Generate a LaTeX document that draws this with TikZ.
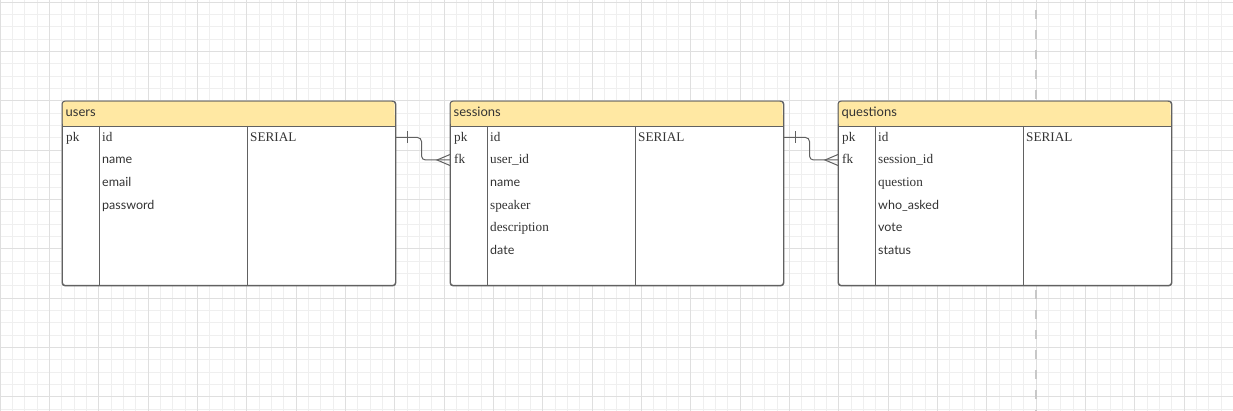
\documentclass[tikz,border=0pt]{standalone}
\usepackage{fontspec}
\setmainfont{Liberation Serif}
\newfontfamily\latofont{Lato}
\definecolor{gridminor}{HTML}{EFEFEF}
\definecolor{gridmajor}{HTML}{DFDFDF}
\definecolor{headfill}{HTML}{FFE8A3}
\definecolor{bordercol}{HTML}{616161}
\definecolor{textcol}{HTML}{333333}
\definecolor{dashcol}{HTML}{C8C8C8}
\tikzset{
  tablebox/.style={draw=bordercol, line width=0.9pt, rounded corners=3pt, fill=white,
    minimum width=333pt, minimum height=184pt, anchor=north west, inner sep=0pt},
  colline/.style={draw=bordercol, line width=0.8pt},
  cellfr/.style={anchor=base west, inner sep=0pt, text=textcol, font=\fontsize{13.2}{13}\selectfont},
  cellfs/.style={anchor=base west, inner sep=0pt, text=textcol, font=\latofont\fontsize{12.5}{13}\selectfont},
  headtext/.style={anchor=base west, inner sep=0pt, text=textcol, font=\latofont\fontsize{13}{13}\selectfont},
  conn/.style={draw=bordercol, line width=1pt},
}
\newcommand\ertable[3]{% name, left x, title
  \node[tablebox] (#1) at (#2,101) {};
  \fill[headfill, rounded corners=3pt] (#2+0.5,101.5) rectangle (#2+332.5,126);
  \fill[headfill] (#2+0.5,115) rectangle (#2+332.5,126);
  \draw[colline] (#2,126) -- (#2+333,126);
  \draw[colline] (#2+37,126) -- (#2+37,285);
  \draw[colline] (#2+185,126) -- (#2+185,285);
  \draw[draw=bordercol, line width=0.9pt, rounded corners=3pt] (#1.north west) rectangle (#1.south east);
  \node[headtext] (#1-title) at (#2+3.5,116.7) {#3};
}
\begin{document}
\begin{tikzpicture}[x=1pt,y=-1pt]
\useasboundingbox (0,0) rectangle (1233,411);
\fill[white] (0,0) rectangle (1233,411);
% grid
\foreach \i in {0,...,100} {
  \draw[gridminor, line width=0.8pt] (\i*12.333,0) -- (\i*12.333,411);
}
\foreach \i in {0,...,33} {
  \draw[gridminor, line width=0.8pt] (0,2+\i*12.333) -- (1233,2+\i*12.333);
}
\foreach \i in {0,...,25} {
  \draw[gridmajor, line width=0.8pt] (\i*49.333,0) -- (\i*49.333,411);
}
\foreach \i in {0,...,8} {
  \draw[gridmajor, line width=0.8pt] (0,2+\i*49.333) -- (1233,2+\i*49.333);
}
% dashed page break
\draw[dashcol, line width=2pt, dash pattern=on 9pt off 11pt, dash phase=10pt] (1036,0) -- (1036,411);

% users
\ertable{users}{62}{users}
\node[cellfr] (users-k1) at (66,141.3) {pk};
\foreach \f/\t [count=\i from 0] in {fr/id, fs/name, fs/email, fs/password} {
  \node[cell\f] (users-f\i) at (102,141.3+\i*22.6) {\t};
}
\node[cellfr] (users-t1) at (250,141.3) {SERIAL};

% sessions
\ertable{sessions}{450}{sessions}
\node[cellfr] (sessions-k1) at (454,141.3) {pk};
\node[cellfr] (sessions-k2) at (454,163.9) {fk};
\foreach \f/\t [count=\i from 0] in {fr/id, fr/user\_id, fs/name, fr/speaker, fr/description, fs/date} {
  \node[cell\f] (sessions-f\i) at (490,141.3+\i*22.6) {\t};
}
\node[cellfr] (sessions-t1) at (638,141.3) {SERIAL};

% questions
\ertable{questions}{838}{questions}
\node[cellfr] (questions-k1) at (842,141.3) {pk};
\node[cellfr] (questions-k2) at (842,163.9) {fk};
\foreach \f/\t [count=\i from 0] in {fr/id, fr/session\_id, fr/question, fs/who\_asked, fs/vote, fs/status} {
  \node[cell\f] (questions-f\i) at (878,141.3+\i*22.6) {\t};
}
\node[cellfr] (questions-t1) at (1026,141.3) {SERIAL};

% connectors
\coordinate (u-out) at (395,137.5);
\coordinate (s-in) at (450,160);
\coordinate (s-out) at (783,137.5);
\coordinate (q-in) at (838,160);

\draw[conn, rounded corners=4pt] (u-out) -- ++(26.5,0) |- (s-in);
\draw[conn] (u-out) ++(12,-6) -- ++(0,12);
\draw[conn] (s-in) ++(0,-5.5) -- ++(-13,5.5) -- ++(13,5.5);

\draw[conn, rounded corners=4pt] (s-out) -- ++(26.5,0) |- (q-in);
\draw[conn] (s-out) ++(12,-6) -- ++(0,12);
\draw[conn] (q-in) ++(0,-5.5) -- ++(-13,5.5) -- ++(13,5.5);
\end{tikzpicture}
\end{document}
